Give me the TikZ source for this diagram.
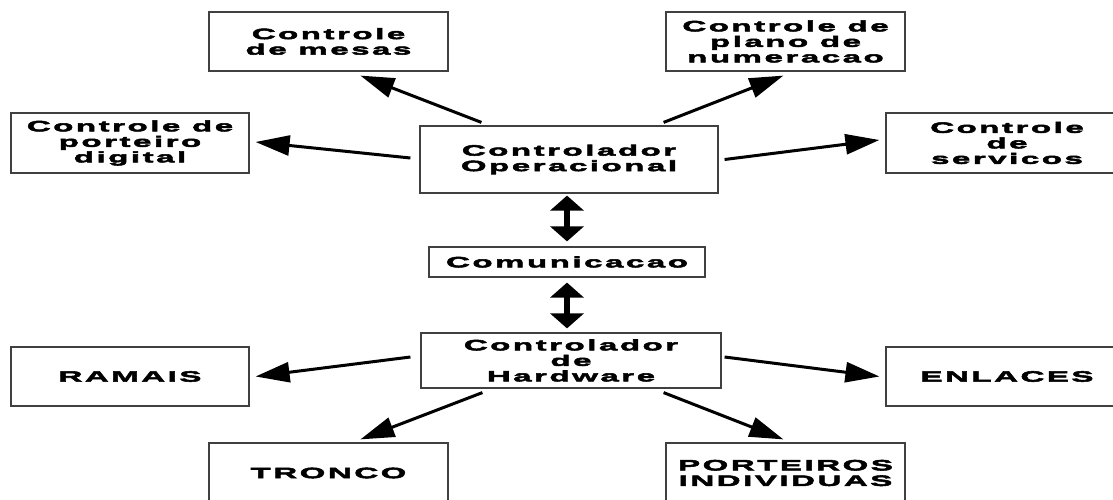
\documentclass[tikz,border=0pt]{standalone}
\usepackage{fontspec}
\usetikzlibrary{arrows.meta,calc}
\newfontfamily\boxfont[FakeStretch=2.2,FakeBold=3.5,LetterSpace=17]{Liberation Sans Bold}
\begin{document}
\begin{tikzpicture}[x=1pt,y=-1pt,
  box/.style={draw=black!75,line width=1.2pt,rectangle,inner sep=0pt,align=center,
    font=\boxfont\fontsize{15}{15.5}\selectfont},
  arr/.style={line width=3pt,-{Triangle[length=34pt,width=20pt]}},
  dbl/.style={line width=6pt,{Triangle[length=15pt,width=33pt]}-{Triangle[length=15pt,width=33pt]}}]
\useasboundingbox (0,0) rectangle (1113,500);
\node[box,minimum width=239pt,minimum height=59pt] (mesas) at (328.5,41.5) {Controle\\de  mesas};
\node[box,minimum width=238pt,minimum height=60pt] (porteiro) at (130,143) {Controle de\\porteiro\\digital};
\node[box,minimum width=298pt,minimum height=67pt] (co) at (569,159.5) {Controlador\\Operacional};
\node[box,minimum width=239pt,minimum height=59pt] (plano) at (785.5,41.5) {Controle de\\plano de\\numeracao};
\node[box,minimum width=242pt,minimum height=60pt] (servicos) at (1007,143) {Controle\\de\\servicos};
\node[box,minimum width=276pt,minimum height=30pt] (com) at (567,262) {Comunicacao};
\node[box,minimum width=300pt,minimum height=55pt] (ch) at (571,360.5) {Controlador\\de\\Hardware};
\node[box,minimum width=238pt,minimum height=59pt] (ramais) at (130,376.5) {RAMAIS};
\node[box,minimum width=242pt,minimum height=59pt] (enlaces) at (1007,376.5) {ENLACES};
\node[box,minimum width=239pt,minimum height=60pt] (tronco) at (328.5,473) {TRONCO};
\node[box,minimum width=239pt,minimum height=60pt] (indiv) at (785.5,473) {PORTEIROS\\INDIVIDUAS};

\draw[arr] ($(co.north west)+(62,-3)$) -- ($(mesas.south west)+(152,4)$);
\draw[arr] ($(co.west)+(-9,-1.5)$) -- ($(porteiro.east)+(6,-1)$);
\draw[arr] ($(co.north east)+(-55,-3)$) -- ($(plano.south west)+(118,4)$);
\draw[arr] ($(co.east)+(6,0)$) -- ($(servicos.west)+(-6,-3)$);
\draw[dbl] ($(co.south)+(-2,2)$) -- ($(com.north)+(0,-5)$);
\draw[dbl] ($(com.south)+(0,5)$) -- ($(ch.north)+(-4,-4)$);
\draw[arr] ($(ch.west)+(-10,-3.5)$) -- ($(ramais.east)+(6,0)$);
\draw[arr] ($(ch.east)+(3,-3.5)$) -- ($(enlaces.west)+(-6,0)$);
\draw[arr] ($(ch.south west)+(62,4)$) -- ($(tronco.north west)+(152,-3)$);
\draw[arr] ($(ch.south east)+(-58,4)$) -- ($(indiv.north west)+(118,-3)$);
\end{tikzpicture}
\end{document}
